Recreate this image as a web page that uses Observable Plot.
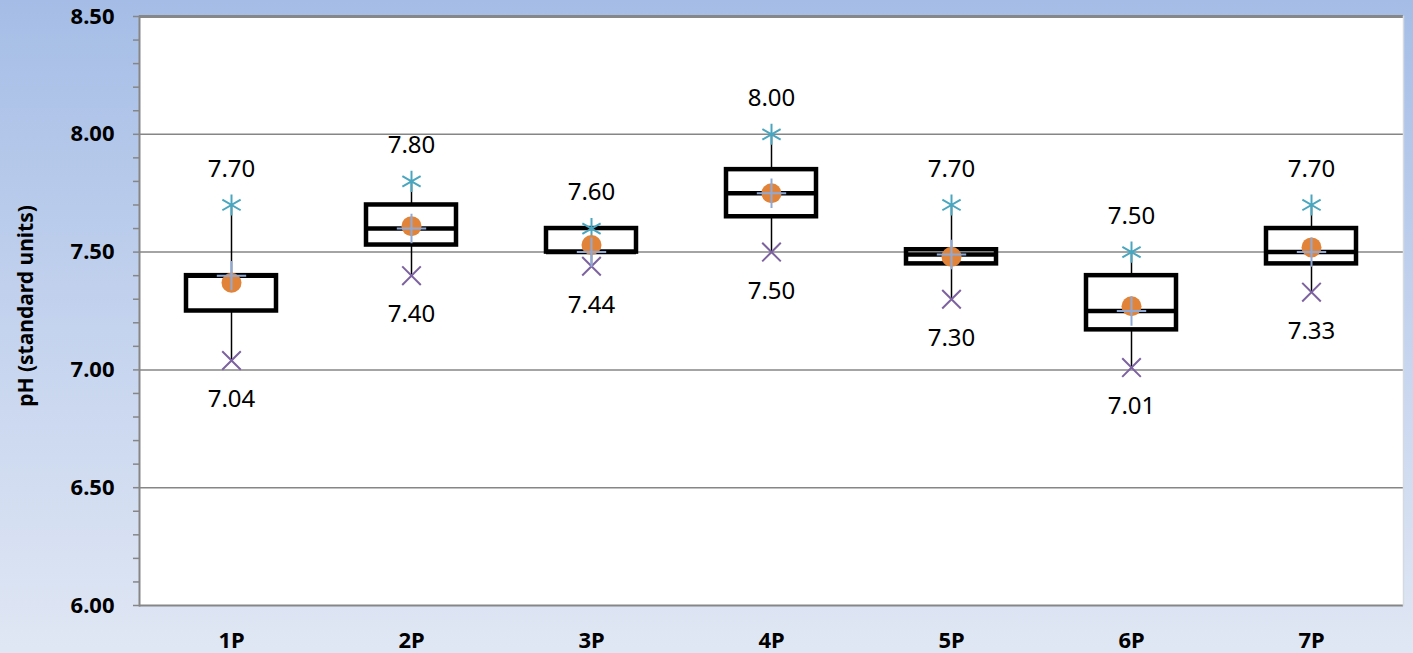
<!DOCTYPE html>
<html>
<head>
<meta charset="utf-8">
<script src="https://cdn.jsdelivr.net/npm/d3@7"></script>
<script src="https://cdn.jsdelivr.net/npm/@observablehq/plot@0.6"></script>
<style>
  html, body { margin: 0; padding: 0; }
  body { width: 1413px; height: 653px; overflow: hidden; }
</style>
</head>
<body>
<div id="chart"></div>
<script>
const categories = ["1P", "2P", "3P", "4P", "5P", "6P", "7P"];
const maxVals    = [7.70, 7.80, 7.60, 8.00, 7.70, 7.50, 7.70];
const minVals    = [7.04, 7.40, 7.44, 7.50, 7.30, 7.01, 7.33];
const q1Vals     = [7.25, 7.53, 7.50, 7.65, 7.45, 7.17, 7.45];
const q3Vals     = [7.40, 7.70, 7.60, 7.85, 7.51, 7.40, 7.60];
const medianVals = [7.40, 7.60, 7.50, 7.75, 7.49, 7.25, 7.50];
const meanVals   = [7.37, 7.61, 7.53, 7.75, 7.48, 7.27, 7.52];
const majorTicks = [6.0, 6.5, 7.0, 7.5, 8.0, 8.5];
const minorTicks = [6.1, 6.2, 6.3, 6.4, 6.6, 6.7, 6.8, 6.9, 7.1, 7.2, 7.3, 7.4, 7.6, 7.7, 7.8, 7.9, 8.1, 8.2, 8.3, 8.4];
const yTitle = "pH (standard units)";

const rows = categories.map((c, i) => ({
  cat: c, max: maxVals[i], min: minVals[i], q1: q1Vals[i], q3: q3Vals[i],
  median: medianVals[i], mean: meanVals[i]
}));

const fmt = d3.format(".2f");
const font = "'Noto Sans', 'Open Sans', sans-serif";
const inset = 45;

const chart = Plot.plot({
  width: 1413,
  height: 653,
  marginLeft: 139,
  marginRight: 10,
  marginTop: 16,
  marginBottom: 48,
  style: {
    background: "linear-gradient(to bottom, #a5bde6 0%, #c4d3ee 50%, #e0e7f4 100%)",
    fontFamily: font,
    color: "black"
  },
  x: { domain: categories, padding: 0 },
  y: { domain: [6, 8.5] },
  marks: [
    Plot.frame({ fill: "white", stroke: null }),
    Plot.ruleY([6.5, 7.0, 7.5, 8.0], { stroke: "#868686", strokeWidth: 1.5 }),
    Plot.ruleY([6.0], { stroke: "#868686", strokeWidth: 2 }),
    Plot.ruleY([8.5], { stroke: "#878787", strokeWidth: 3 }),
    Plot.frame({ anchor: "left", stroke: "#868686", strokeWidth: 2 }),
    Plot.frame({ anchor: "right", stroke: "#d4d9e2", strokeWidth: 1.5 }),
    Plot.axisY({ ticks: minorTicks, tickSize: 6, text: null, stroke: "#868686", strokeWidth: 1.5 }),
    Plot.axisY({
      ticks: majorTicks, tickSize: 6, tickPadding: 19, tickFormat: fmt,
      fontSize: 22, fontWeight: "bold", stroke: "#868686", strokeWidth: 1.5, label: null
    }),
    Plot.axisX({ tickSize: 0, tickPadding: 27, fontSize: 22, fontWeight: "bold", label: null }),
    Plot.text([yTitle], {
      frameAnchor: "left", textAnchor: "middle", rotate: -90, dx: -113, dy: -5,
      fontSize: 21, fontWeight: "bold", fill: "black"
    }),
    Plot.ruleX(rows, { x: "cat", y1: "min", y2: "max", stroke: "black", strokeWidth: 1.5 }),
    Plot.barY(rows, {
      x: "cat", y1: "q1", y2: "q3", fill: "white", stroke: "black", strokeWidth: 4.5,
      insetLeft: inset, insetRight: inset
    }),
    Plot.tickY(rows, {
      x: "cat", y: "median", stroke: "black", strokeWidth: 4.5,
      insetLeft: inset, insetRight: inset
    }),
    Plot.dot(rows, { x: "cat", y: "max", symbol: "asterisk", r: 10, stroke: "#4aa6bf", strokeWidth: 2 }),
    Plot.dot(rows, { x: "cat", y: "min", symbol: "times", r: 8.5, stroke: "#7d62a0", strokeWidth: 2 }),
    Plot.dot(rows, { x: "cat", y: "mean", symbol: "circle", r: 10, fill: "#e1843a", stroke: null }),
    Plot.dot(rows, { x: "cat", y: "median", symbol: "plus", r: 9.5, stroke: "#8fa9d6", strokeWidth: 2 }),
    Plot.text(rows, { x: "cat", y: "max", text: d => fmt(d.max), dy: -36, fontSize: 24, fill: "black" }),
    Plot.text(rows, { x: "cat", y: "min", text: d => fmt(d.min), dy: 39, fontSize: 24, fill: "black" })
  ]
});

document.getElementById("chart").appendChild(chart);
</script>
</body>
</html>
